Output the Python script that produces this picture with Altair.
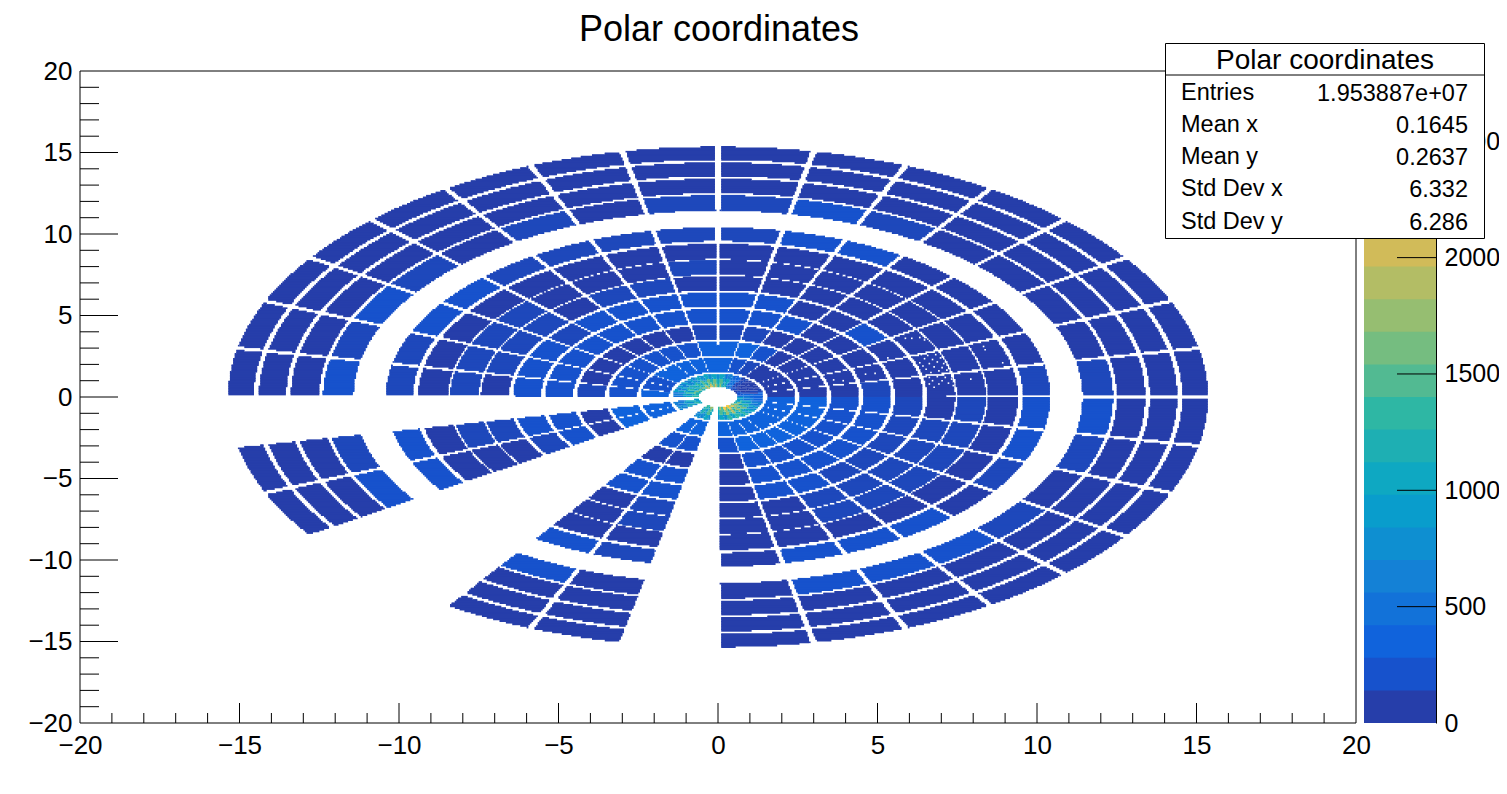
import altair as alt
import numpy as np
import pandas as pd

alt.data_transformers.disable_max_rows()

FONT = "Liberation Sans"
TITLE = "Polar coordinates"

# Palette stops (ROOT "bird") and 20 contour bands
stop_r = [.2082, .0592, .0780, .0232, .1802, .5301, .8186, .9956, .9764]
stop_g = [.1664, .3599, .5041, .6419, .7178, .7492, .7328, .7862, .9832]
stop_b = [.5293, .8684, .8385, .7914, .6425, .4662, .3499, .1968, .0539]
stop_t = [i * .125 for i in range(9)]
band_t = [(i + 1) / 20 for i in range(20)]
bands = ["#%02x%02x%02x" % tuple(int(round(255 * np.interp(t, stop_t, s))) for s in (stop_r, stop_g, stop_b))
         for t in band_t]
Z_MAX = 2802.0
band_w = Z_MAX / 20
speckle = "#1e48bb"  # sectors whose cells straddle the first two bands

# Counts per sector; sector k spans k*11.25 .. (k+1)*11.25 degrees; M = no sector
D, S, B, C, M = 70, 135, 210, 350, 0
ring_radii = [(1.54, 2.42), (2.54, 3.42), (3.55, 4.42), (4.55, 5.42), (5.55, 6.42), (6.55, 7.43),
              (7.50, 8.40), (8.46, 9.40), (9.56, 10.41), (11.43, 12.38), (12.50, 13.39), (13.54, 14.39),
              (14.55, 15.36)]
ring_02 = [D, D, D, D, D, S, B, C, C, C, C, C, C, B, B, C, M, C, C, M, M, C, C, M, C, C, C, C, C, C, C, C]
ring_03 = [D, D, D, D, D, B, C, C, C, B, B, B, B, B, B, B, M, C, C, M, M, B, B, M, B, C, C, C, C, C, C, C]
ring_04 = [D, D, D, D, D, D, S, S, S, D, D, D, D, D, D, S, M, D, D, M, M, D, D, M, D, B, B, B, B, B, B, B]
ring_05 = [S, D, D, D, D, B, B, B, B, B, B, B, B, B, B, B, M, B, B, M, M, B, B, M, D, B, B, B, B, B, B, B]
ring_06 = [D, D, D, B, D, D, B, B, B, B, B, B, S, B, B, B, M, B, S, M, M, B, B, M, D, B, B, S, S, S, S, S]
ring_07 = [D, D, D, D, D, D, D, D, D, S, S, D, S, S, S, D, M, S, D, M, M, D, S, M, D, D, S, S, S, S, S, D]
ring_08 = [D, D, D, D, D, D, D, D, S, D, D, D, S, S, S, S, M, S, D, M, M, D, S, M, D, D, S, S, S, S, S, S]
ring_09 = [D, D, D, D, D, D, D, D, D, D, D, D, D, D, D, D, M, D, D, M, M, D, D, M, D, D, D, D, D, D, D, D]
ring_10 = [S, D, D, D, D, B, B, S, S, S, S, S, B, B, S, S, M, B, B, M, M, B, S, M, D, B, B, B, D, S, B, B]
ring_11 = [S, D, D, D, D, S, B, S, S, D, S, D, S, B, S, B, M, S, B, M, M, B, D, M, D, B, B, B, S, D, S, B]
ring_12 = ring_09
ring_13 = ring_09
ring_14 = ring_09

# Innermost ring, read at three radii
core_radii = [(0.60, 0.80), (0.80, 1.10), (1.10, 1.42)]
core_in = [560, 210, 135, 135, 210, 630, 1150, 1750, 2050, 2100, 1850, 1650, 1550, 1600, 1600, 1300,
           0, 1200, 1400, 0, 0, 1400, 1750, 0, 1850, 2250, 2250, 2150, 1950, 1650, 1300, 900]
core_mid = [490, 135, 70, 70, 135, 560, 1000, 1450, 1600, 1600, 1450, 1350, 1250, 1350, 1350, 1100,
            0, 1000, 1150, 0, 0, 1150, 1450, 0, 1500, 1800, 1850, 1750, 1600, 1350, 1100, 700]
core_out = [420, 135, 70, 70, 135, 420, 700, 1000, 1120, 1120, 1000, 900, 900, 900, 900, 700,
            0, 700, 800, 0, 0, 800, 1000, 0, 1120, 1300, 1400, 1300, 1120, 900, 700, 420]
core_ray_drop = 0.72

# Bins left empty inside the otherwise full sectors
hole_x = [6.35, 6.55, 6.8, 6.45, 6.7, 6.95, 6.3, 6.6, 6.85, 7.05, 6.4, 6.75, 7.0, 6.5, 6.9, 7.15, 6.65,
          6.6, 6.85, 7.1, 7.3, 6.7, 7.0, 6.6, 6.9, 7.2, 7.35, 6.75,
          5.85, 6.05, 6.3, 6.45, 8.3, 8.35, 8.9, 7.9, 5.3, 5.0, 4.6, 4.9, 3.6, 3.9]
hole_y = [2.55, 2.5, 2.55, 2.3, 2.25, 2.35, 2.05, 2.0, 2.1, 2.0, 1.85, 1.8, 1.75, 1.65, 1.55, 1.6, 1.45,
          1.15, 1.2, 1.15, 1.05, 0.95, 0.95, 0.75, 0.75, 0.8, 0.65, 0.55,
          3.55, 3.55, 3.6, 3.45, 3.05, 2.85, 2.05, 1.05, 2.35, 2.1, 1.35, 1.4, 1.0, 0.95]

radii = core_radii + ring_radii
table = np.array([core_in, core_mid, core_out, ring_02, ring_03, ring_04, ring_05, ring_06, ring_07,
                  ring_08, ring_09, ring_10, ring_11, ring_12, ring_13, ring_14], dtype=float)
is_core = [True, True, True] + [False] * 13

# Histogram binning of the picture: 0.05 x 0.1 cells
DX, DY = 0.05, 0.1
x_edges = np.arange(-16, 16, DX)
y_edges = np.arange(-16, 16, DY)
xc = x_edges + DX / 2
yc = y_edges + DY / 2
X, Y = np.meshgrid(xc, yc)
R = np.hypot(X, Y)
PHI = np.degrees(np.arctan2(Y, X)) % 360
K = (PHI // 11.25).astype(int) % 32
FR = PHI - K * 11.25
V = np.zeros_like(R)
for i, (r0, r1) in enumerate(radii):
    m = (R >= r0) & (R < r1)
    if not is_core[i]:
        half = 0.375 if r0 > 11 else 0.45
        low = np.where(K == 0, 0.4, half)
        up = np.where(K == 31, 0.3 if r0 > 11 else 0.0, half)
        m &= (FR >= low) & (FR <= 11.25 - up)
    V[m] = table[i][K[m]]
    if is_core[i]:
        edge = m & ((FR < 2.8) | (FR > 8.4))
        V[edge] = V[edge] * core_ray_drop

# Merge each row's cells into runs; a run extends under the next row only where
# that row continues with the same value, so no seam shows and the edges stay put.
SEAM = 0.065
rows = []
for j, y0 in enumerate(y_edges):
    line = V[j]
    above = V[j + 1] if j + 1 < len(y_edges) else np.zeros_like(line)
    same = (above == line) & (line > 0)
    key = line * 2 + same
    change = np.flatnonzero(np.diff(key)) + 1
    starts = np.r_[0, change]
    ends = np.r_[change, len(line)]
    for a, b in zip(starts, ends):
        if line[a] > 0:
            rows.append((round(float(x_edges[a]), 3), round(float(x_edges[b - 1] + DX + 0.004), 3),
                         round(float(y0), 2), round(float(y0 + DY + (SEAM if same[a] else 0)), 3),
                         round(float(line[a]), 1)))
cells = pd.DataFrame(rows, columns=["x0", "x1", "y0", "y1", "v"])
holes = pd.DataFrame({"x0": hole_x, "y0": hole_y})
holes["x1"] = holes["x0"] + DX
holes["y1"] = holes["y0"] + DY

W, H = 1276, 652
xs = alt.Scale(domain=[-20, 20], nice=False, zero=False)
ys = alt.Scale(domain=[-20, 20], nice=False, zero=False)
major = [-20, -15, -10, -5, 0, 5, 10, 15, 20]
minor = [v for v in range(-20, 21) if v % 5 != 0]

axis_common = dict(title=None, grid=False, domain=False, ticks=False, values=major, format="d", labelFont=FONT,
                   labelFontSize=26, labelColor="black", labelOverlap=False, labelFlush=False,
                   labelBound=False)
x_axis = alt.Axis(labelPadding=9, **axis_common)
y_axis = alt.Axis(labelPadding=8, **axis_common)

heat_scale = alt.Scale(type="threshold", domain=[130] + [band_w * i for i in range(1, 20)],
                       range=[bands[0], speckle] + bands[1:])
heat = alt.Chart(cells).mark_rect(strokeWidth=0).encode(
    x=alt.X("x0:Q", scale=xs, axis=x_axis),
    x2="x1:Q",
    y=alt.Y("y0:Q", scale=ys, axis=y_axis),
    y2="y1:Q",
    color=alt.Color("v:Q", scale=heat_scale, legend=None),
)
empty_bins = alt.Chart(holes).mark_rect(color="white", strokeWidth=0).encode(
    x=alt.X("x0:Q", scale=xs, axis=x_axis), x2="x1:Q",
    y=alt.Y("y0:Q", scale=ys, axis=y_axis), y2="y1:Q")

def x_ticks(vals, length):
    return alt.Chart(pd.DataFrame({"t": vals})).mark_rule(color="black", strokeWidth=1).encode(
        x=alt.X("t:Q", scale=xs, axis=x_axis), y=alt.value(H), y2=alt.value(H - length))

def y_ticks(vals, length):
    return alt.Chart(pd.DataFrame({"t": vals})).mark_rule(color="black", strokeWidth=1).encode(
        y=alt.Y("t:Q", scale=ys, axis=y_axis), x=alt.value(0), x2=alt.value(length))

frame = alt.Chart(pd.DataFrame({"a": [0]})).mark_rect(filled=False, stroke="black", strokeWidth=1).encode(
    x=alt.value(0), x2=alt.value(W), y=alt.value(0), y2=alt.value(H))

title = alt.Chart(pd.DataFrame({"t": [TITLE]})).mark_text(
    font=FONT, fontSize=36, color="black", align="center", baseline="middle").encode(
    x=alt.value(639), y=alt.value(-41), text="t:N")

main = alt.layer(heat, empty_bins, x_ticks(major[1:-1], 20), x_ticks(minor, 10), y_ticks(major[1:-1], 38),
                 y_ticks(minor, 19), frame, title).properties(width=W, height=H)

# Palette column
levels = pd.DataFrame({"low": [band_w * i for i in range(20)], "high": [min(band_w * (i + 1) + 6, Z_MAX) for i in range(20)]})
levels["mid"] = levels["low"] + 1
zs = alt.Scale(domain=[0, Z_MAX], nice=False, zero=False)
z_ticks = [0, 500, 1000, 1500, 2000, 2500]
z_axis = alt.Axis(orient="right", title=None, grid=False, ticks=False, domain=True, domainColor="black",
                  values=z_ticks, format="d", labelFont=FONT, labelFontSize=25, labelColor="black", labelPadding=8,
                  labelOverlap=False, labelFlush=False, labelBound=False)
pal = alt.Chart(levels).mark_rect(strokeWidth=0).encode(
    x=alt.value(0), x2=alt.value(72),
    y=alt.Y("low:Q", scale=zs, axis=z_axis),
    y2="high:Q",
    color=alt.Color("mid:Q", scale=alt.Scale(type="threshold", domain=[band_w * i for i in range(1, 20)], range=bands),
                    legend=None),
)
pal_ticks = alt.Chart(pd.DataFrame({"t": z_ticks[1:]})).mark_rule(color="black", strokeWidth=1).encode(
    y=alt.Y("t:Q", scale=zs, axis=z_axis), x=alt.value(33), x2=alt.value(72))

# Statistics box
stat_names = ["Entries", "Mean x", "Mean y", "Std Dev x", "Std Dev y"]
stat_values = ["1.953887e+07", "0.1645", "0.2637", "6.332", "6.286"]
stat_rows = [22.3, 54, 85.7, 118.3, 150.7]

box = alt.Chart(pd.DataFrame({"a": [0]})).mark_rect(fill="white", stroke="black", strokeWidth=1).encode(
    x=alt.value(-198.5), x2=alt.value(120.5), y=alt.value(-27.5), y2=alt.value(167.5))
box_line = alt.Chart(pd.DataFrame({"a": [0]})).mark_rule(color="black", strokeWidth=1).encode(
    x=alt.value(-198.5), x2=alt.value(120.5), y=alt.value(4))
box_layers = [box, box_line,
              alt.Chart(pd.DataFrame({"t": [TITLE]})).mark_text(font=FONT, fontSize=28, color="black", align="center",
                                                                baseline="middle").encode(
                  x=alt.value(-39), y=alt.value(-10), text="t:N")]
for name, val, yy in zip(stat_names, stat_values, stat_rows):
    box_layers.append(alt.Chart(pd.DataFrame({"t": [name]})).mark_text(
        font=FONT, fontSize=23.5, color="black", align="left", baseline="middle").encode(
        x=alt.value(-183), y=alt.value(yy), text="t:N"))
    box_layers.append(alt.Chart(pd.DataFrame({"t": [val]})).mark_text(
        font=FONT, fontSize=23.5, color="black", align="right", baseline="middle").encode(
        x=alt.value(104), y=alt.value(yy + 1), text="t:N"))

side = alt.layer(pal, pal_ticks, *box_layers).properties(width=72, height=H)

chart = alt.hconcat(main, side, spacing=8, bounds="flush").resolve_scale(color="independent").properties(
    padding={"left": 19, "top": 4, "right": -1, "bottom": 0}, background="white"
).configure_view(stroke=None)

chart.save("out.html", embed_options={"renderer": "svg", "actions": False})
